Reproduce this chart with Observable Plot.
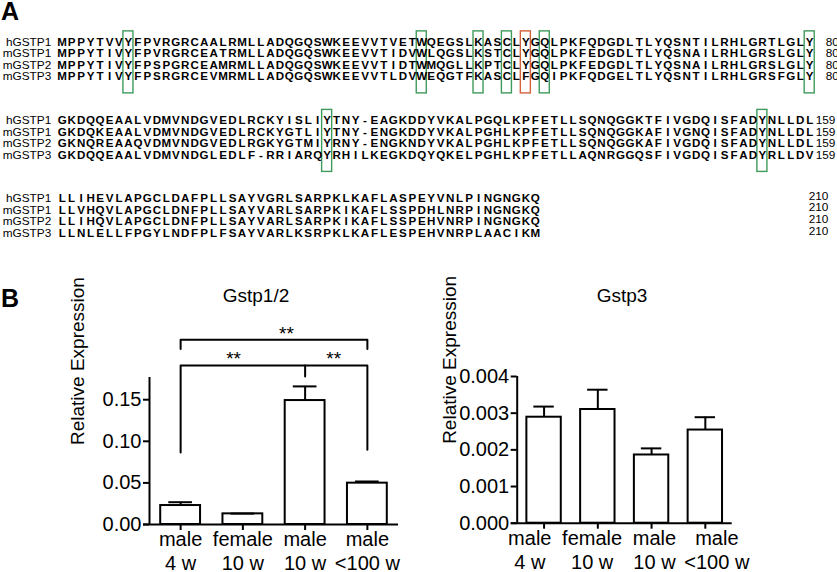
<!DOCTYPE html>
<html><head><meta charset="utf-8">
<script src="https://cdn.jsdelivr.net/npm/d3@7"></script>
<script src="https://cdn.jsdelivr.net/npm/@observablehq/plot@0.6"></script>
<style>
body{margin:0;background:#fff;}
#fig{position:relative;width:837px;height:572px;overflow:hidden;background:#fff;font-family:"Liberation Sans",Arial,sans-serif;color:#000;}
.abs{position:absolute;}
.panel{font-weight:bold;font-size:25px;line-height:1;}
.title{font-size:19px;line-height:1;transform:translateX(-50%);white-space:nowrap;}
</style></head><body><div id="fig"></div>
<script>
// ---------- Panel A data ----------
const seqNames = ["hGSTP1","mGSTP1","mGSTP2","mGSTP3"];
const block1 = [
  "MPPYTVVYFPVRGRCAALRMLLADQGQSWKEEVVTVETWQEGSLKASCLYGQLPKFQDGDLTLYQSNTILRHLGRTLGLY",
  "MPPYTIVYFPVRGRCEATRMLLADQGQSWKEEVVTIDVWLQGSLKSTCLYGQLPKFEDGDLTLYQSNAILRHLGRSLGLY",
  "MPPYTIVYFPSPGRCEAMRMLLADQGQSWKEEVVTIDTWMQGLLKPTCLYGQLPKFEDGDLTLYQSNAILRHLGRSLGLY",
  "MPPYTIVYFPSRGRCEVMRMLLADQGQSWKEEVVTLDVWEQGTFKASCLFGQIPKFQDGELTLYQSNTILRHLGRSFGLY"
];
const block2 = [
  "GKDQQEAALVDMVNDGVEDLRCKYISLIYTNY-EAGKDDYVKALPGQLKPFETLLSQNQGGKTFIVGDQISFADYNLLDL",
  "GKDQKEAALVDMVNDGVEDLRCKYGTLIYTNY-ENGKDDYVKALPGHLKPFETLLSQNQGGKAFIVGNQISFADYNLLDL",
  "GKNQREAAQVDMVNDGVEDLRGKYGTMIYRNY-ENGKNDYVKALPGHLKPFETLLSQNQGGKAFIVGDQISFADYNLLDL",
  "GKDQQEAALVDMVNDGLEDLF-RRIARQYRHILKEGKDQYQKELPGHLKPFETLLAQNRGGQSFIVGDQISFADYRLLDV"
];
const block3 = [
  "LLIHEVLAPGCLDAFPLLSAYVGRLSARPKLKAFLASPEYVNLPINGNGKQ",
  "LLVHQVLAPGCLDNFPLLSAYVARLSARPKIKAFLSSPDHLNRPINGNGKQ",
  "LLIHQVLAPGCLDNFPLLSAYVARLSARPKIKAFLSSPEHVNRPINGNGKQ",
  "LLNLELLFPGYLNDFPLFSAYVARLKSRPKLKAFLESPEHVNRPLAACIKM"
];
const blockEndLabels = ["80","159","210"];
const boxedBlock = [0,0,0,0,0,0,0,1,1];
const boxedColumn = [8,39,45,48,50,52,80,29,75];
const boxedKind = ["conserved","conserved","conserved","conserved","variant","conserved","conserved","conserved","conserved"];

// ---------- Panel B data ----------
const groups = ["male\n4 w","female\n10 w","male\n10 w","male\n<100 w"];
const gstp12Mean = [0.0228, 0.0128, 0.149, 0.0497];
const gstp12Sem  = [0.0040, 0.0003, 0.017, 0.0020];
const gstp12Ticks = [0, 0.05, 0.10, 0.15];
const gstp3Mean = [0.00289, 0.00310, 0.00186, 0.00254];
const gstp3Sem  = [0.00029, 0.00054, 0.00018, 0.00035];
const gstp3Ticks = [0, 0.001, 0.002, 0.003, 0.004];
// significance brackets for Gstp1/2 (group index, value units)
const sigLineX = [[0,0,3,3],[0,0,3,3],[2,2]];
const sigLineY = [[0.211,0.222,0.222,0.211],[0.0865,0.191,0.191,0.0898],[0.191,0.178]];
const sigLabelX = [1.70, 0.85, 2.46];
const sigLabelY = [0.2296, 0.1995, 0.1995];
const sigLabelText = ["**","**","**"];

const FONT = '"Liberation Sans", Arial, sans-serif';
const fig = document.getElementById("fig");
function place(node, left, top){ const d=document.createElement("div"); d.className="abs"; d.style.left=left+"px"; d.style.top=top+"px"; d.appendChild(node); fig.appendChild(d); return d; }
function label(text, cls, left, top){ const d=document.createElement("div"); d.className="abs "+cls; d.style.left=left+"px"; d.style.top=top+"px"; d.textContent=text; fig.appendChild(d); }

// ---------- Panel A ----------
const blocks = [block1, block2, block3];
const blockStart = [0, 6.8, 13.55];          // row-unit offset of each block
const rowOf = (b, s) => blockStart[b] + s;
const residues = [];
blocks.forEach((blk, b) => blk.forEach((seq, s) => [...seq].forEach((ch, c) => residues.push({b, s, col: c + 1, ch}))));
const nameRows = blocks.flatMap((blk, b) => seqNames.map((name, s) => ({b, s, name})));
const boxes = boxedColumn.map((col, k) => ({block: boxedBlock[k], col, kind: boxedKind[k]}));
const endDx = [16, 6, -1];

const plotA = Plot.plot({
  width: 837, height: 250, margin: 0,
  x: {domain: [1, 80], range: [61.7, 809.2], axis: null},
  y: {domain: [0, 16.6], range: [41.5, 233.2], axis: null},
  style: {fontFamily: FONT, background: "transparent", overflow: "visible"},
  marks: [
    Plot.rect(boxes.filter(d => d.kind === "conserved"), {x1: d => d.col - 0.53, x2: d => d.col + 0.53, y1: d => rowOf(d.block, 0) - 0.92, y2: d => rowOf(d.block, 3) + 1.45, fill: "none", stroke: "#3f9b5c", strokeWidth: 1.4}),
    Plot.rect(boxes.filter(d => d.kind === "variant"), {x1: d => d.col - 0.53, x2: d => d.col + 0.53, y1: d => rowOf(d.block, 0) - 0.92, y2: d => rowOf(d.block, 3) + 1.45, fill: "none", stroke: "#d5603c", strokeWidth: 1.4}),
    Plot.text(residues, {x: "col", y: d => rowOf(d.b, d.s), text: "ch", fontSize: 11.6, fontWeight: "bold"}),
    Plot.text(nameRows, {x: () => 1, y: d => rowOf(d.b, d.s), text: "name", textAnchor: "end", dx: -11, fontSize: 11.8}),
    ...blocks.map((blk, b) => Plot.text(seqNames.map((n, s) => ({b, s})), {x: () => 80, y: d => rowOf(d.b, d.s) - (b === 2 ? 0.2 : 0), text: () => blockEndLabels[b], textAnchor: "start", dx: endDx[b], fontSize: 11.8}))
  ]
});
place(plotA, 0, 0);

// ---------- Panel B ----------
function barChart({means, sems, ticks, fmt, yMax, width, marginLeft, marginRight, marginTop, marginBottom, labelSpread, labelShift, ylabelDx, extra}) {
  const data = means.map((m, i) => ({i, mean: m, sem: sems[i]}));
  const lab = groups.map((g, i) => ({g, i}));
  return Plot.plot({
    width, height: 272, marginLeft, marginRight, marginTop, marginBottom,
    x: {domain: [-0.5, 3.5], axis: null},
    y: {domain: [0, yMax], axis: null},
    style: {fontFamily: FONT, fontSize: "20px", background: "transparent", overflow: "visible"},
    marks: [
      Plot.rect(data, {x1: d => d.i - 0.32, x2: d => d.i + 0.32, y1: () => 0, y2: "mean", fill: "white", stroke: "black", strokeWidth: 2}),
      Plot.ruleX(data, {x: "i", y1: "mean", y2: d => d.mean + d.sem, stroke: "black", strokeWidth: 2}),
      Plot.ruleY(data, {y: d => d.mean + d.sem, x1: d => d.i - 0.19, x2: d => d.i + 0.19, stroke: "black", strokeWidth: 2}),
      Plot.ruleX([-0.5], {stroke: "black", strokeWidth: 2}),
      Plot.ruleY([0], {stroke: "black", strokeWidth: 2, insetLeft: -6}),
      Plot.axisY({ticks, tickFormat: fmt, tickSize: 6, tickPadding: 2, strokeWidth: 2, label: null, fontSize: 20}),
      Plot.axisX({ticks: [0, 1, 2, 3], tickFormat: () => "", tickSize: 6, strokeWidth: 2, label: null}),
      Plot.text(lab, {x: d => 1.5 + (d.i - 1.5) * labelSpread + labelShift, text: "g", frameAnchor: "bottom", lineAnchor: "top", dy: 4.5, lineHeight: 1.2, fontSize: 20}),
      Plot.text(["Relative Expression"], {frameAnchor: "left", text: d => d, rotate: -90, dx: ylabelDx, dy: -6, fontSize: 19}),
      ...(extra || [])
    ]
  });
}

const sigPts = sigLineX.flatMap((xs, k) => xs.map((x, j) => ({k, x, y: sigLineY[k][j]})));
const sigLab = sigLabelText.map((t, k) => ({t, x: sigLabelX[k], y: sigLabelY[k]}));

const left = barChart({
  means: gstp12Mean, sems: gstp12Sem, ticks: gstp12Ticks, fmt: d3.format(".2f"), yMax: 0.1767,
  width: 420, marginLeft: 149, marginRight: 22, marginTop: 77, marginBottom: 48,
  labelSpread: 1, labelShift: 0, ylabelDx: -72,
  extra: [
    Plot.line(sigPts, {x: "x", y: "y", z: "k", stroke: "black", strokeWidth: 2}),
    Plot.text(sigLab, {x: "x", y: "y", text: "t", fontSize: 19})
  ]
});
place(left, 0, 300);

const right = barChart({
  means: gstp3Mean, sems: gstp3Sem, ticks: gstp3Ticks, fmt: d3.format(".3f"), yMax: 0.004,
  width: 417, marginLeft: 96.7, marginRight: 105.3, marginTop: 76, marginBottom: 49.3,
  labelSpread: 1.16, labelShift: -0.026, ylabelDx: -67
});
place(right, 420, 300);

label("A", "panel", 1, -1);
label("B", "panel", 1, 286);
label("Gstp1/2", "title", 256, 286);
label("Gstp3", "title", 622, 286);
</script></body></html>
